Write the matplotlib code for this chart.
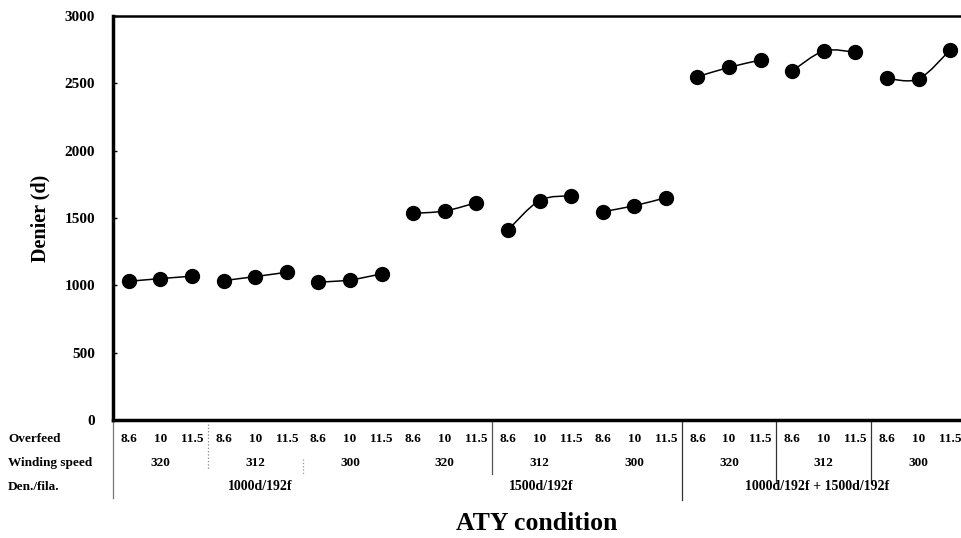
import numpy as np
import matplotlib
matplotlib.use("Agg")
import matplotlib.pyplot as plt
from matplotlib.path import Path
from matplotlib.patches import PathPatch

# data
overfeed = ["8.6", "10", "11.5"]
winding = ["320", "312", "300", "320", "312", "300", "320", "312", "300"]
den_fila = ["1000d/192f", "1500d/192f", "1000d/192f + 1500d/192f"]
denier = [
    [1030, 1050, 1068],
    [1035, 1065, 1097],
    [1023, 1040, 1085],
    [1535, 1552, 1614],
    [1411, 1629, 1666],
    [1547, 1591, 1651],
    [2549, 2619, 2673],
    [2592, 2740, 2731],
    [2537, 2533, 2748],
]

serif = ["Liberation Serif", "DejaVu Serif"]
plt.rcParams["font.family"] = serif
plt.rcParams["font.weight"] = "bold"

fig = plt.figure(figsize=(9.61, 5.38), dpi=100)
W, H = 961, 538
ax = fig.add_axes([113 / W, (H - 420) / H, (966 - 113) / W, (420 - 16) / H])


def smooth_path(xs, ys):
    # excel-like smoothed line as cubic bezier segments
    pts = np.column_stack([xs, ys]).astype(float)
    n = len(pts)
    verts = [pts[0]]
    codes = [Path.MOVETO]
    for i in range(n - 1):
        p0 = pts[max(i - 1, 0)]
        p1 = pts[i]
        p2 = pts[i + 1]
        p3 = pts[min(i + 2, n - 1)]
        c1 = p1 + (p2 - p0) / 6
        c2 = p2 - (p3 - p1) / 6
        verts += [c1, c2, p2]
        codes += [Path.CURVE4] * 3
    return Path(verts, codes)


for g, vals in enumerate(denier):
    xs = [g * 3 + k + 1 for k in range(3)]
    ax.add_patch(PathPatch(smooth_path(xs, vals), fill=False, lw=1.1,
                           edgecolor="black", zorder=2))
    ax.plot(xs, vals, "o", color="black", ms=10, zorder=3)

ax.set_xlim(0.5, 27.5)
ax.set_ylim(0, 3000)
ax.set_yticks(range(0, 3001, 500))
ax.set_xticks([])
ax.tick_params(axis="y", direction="in", length=3, width=1, pad=13,
               labelsize=11)
for lab in ax.get_yticklabels():
    lab.set_fontweight("bold")
for s in ["left", "bottom"]:
    ax.spines[s].set_linewidth(2.5)
ax.spines["top"].set_linewidth(1.8)
ax.spines["right"].set_visible(False)

ax.set_ylabel("Denier (d)", fontsize=14.5, fontweight="bold", labelpad=10)

tr = ax.get_xaxis_transform()
ypx = lambda p: (420 - p) / 404.0

# row labels
for txt, py in [("Overfeed", 439), ("Winding speed", 463), ("Den./fila.", 487)]:
    fig.text(8 / W, (H - py) / H, txt, fontsize=9.5, fontweight="bold",
             ha="left", va="center")

for i in range(27):
    ax.text(i + 1, ypx(439), overfeed[i % 3], transform=tr, fontsize=9.5,
            fontweight="bold", ha="center", va="center")
for g, w in enumerate(winding):
    ax.text(g * 3 + 2, ypx(463), w, transform=tr, fontsize=9.5,
            fontweight="bold", ha="center", va="center")
den_px = [260, 541, 817]
for lab, px in zip(den_fila, den_px):
    fig.text(px / W, (H - 487) / H, lab, fontsize=10, fontweight="bold",
             ha="center", va="center")

# table separators
seps = [
    (0.5, 420, 498, "-", "#777777"),
    (3.5, 424, 470, ":", "#888888"),
    (6.5, 459, 474, ":", "#999999"),
    (12.5, 420, 474, "-", "#555555"),
    (18.5, 420, 500, "-", "#333333"),
    (21.5, 420, 483, "-", "#333333"),
    (24.5, 420, 483, "-", "#333333"),
]
for x, y0, y1, ls, c in seps:
    ax.plot([x, x], [ypx(y0), ypx(y1)], transform=tr, ls=ls, color=c,
            lw=0.9, clip_on=False)

fig.text(537 / W, (H - 523) / H, "ATY condition", fontsize=18.5,
         fontweight="bold", ha="center", va="center")

fig.savefig("out.png", dpi=100)
